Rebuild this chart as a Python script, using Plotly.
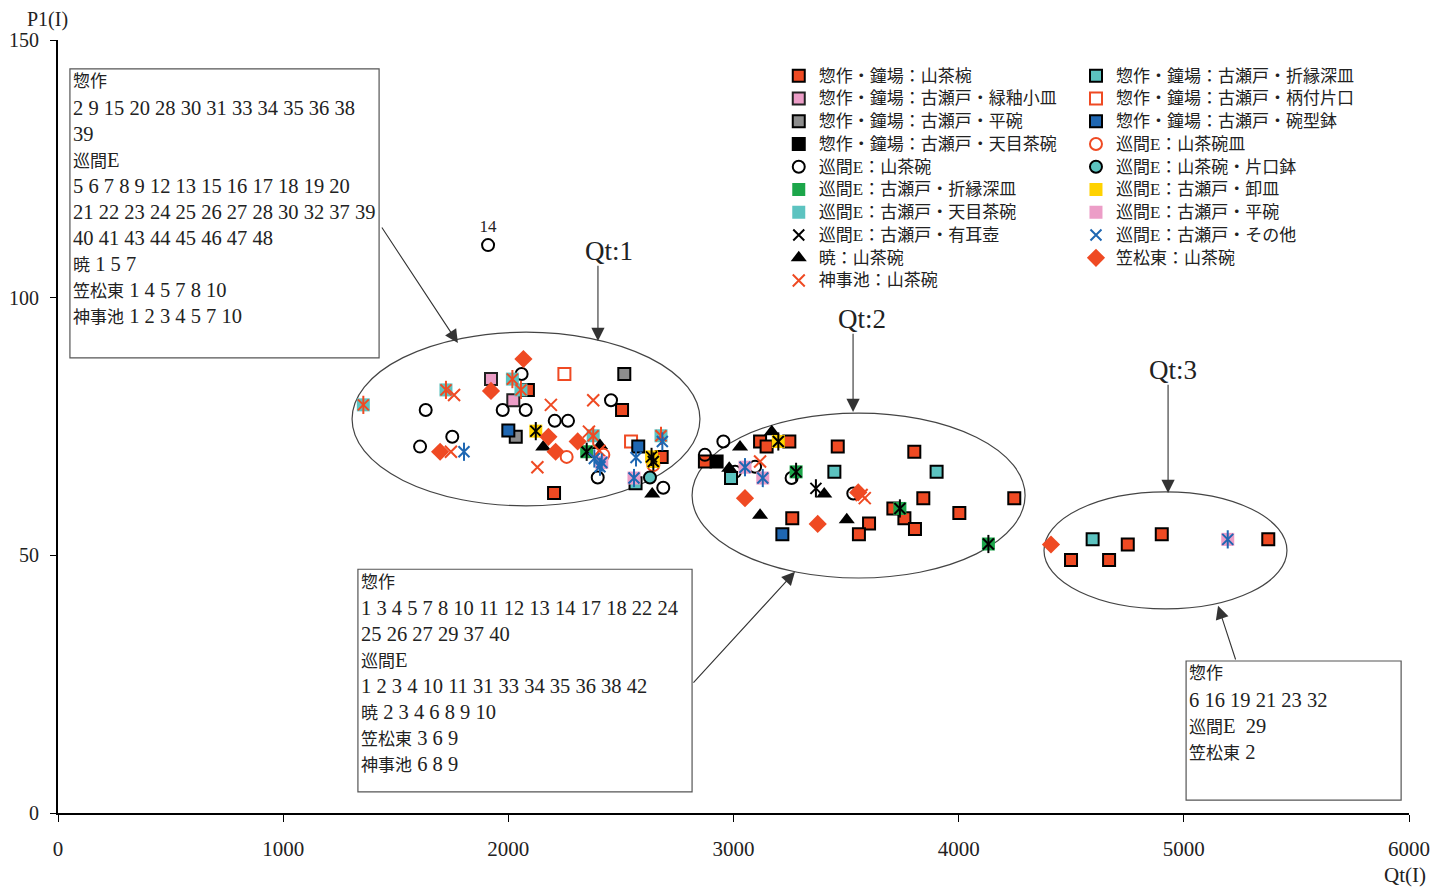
import re
import plotly.graph_objects as go

# ---------------- data (Qt(I), P1(I)) ----------------
s01_x = [2087, 2505, 2203, 2681, 2873, 3118, 3147, 3248, 3463, 3803, 3843, 4247, 4003, 3710, 3759, 3806, 3261, 3602, 3557, 4499, 4668, 4751, 4902, 5375]
s01_y = [82.1, 78.2, 62.1, 69.1, 68.2, 72.1, 71.1, 72.1, 71.1, 70.1, 61.1, 61.1, 58.2, 59.1, 57.2, 55.1, 57.2, 56.2, 54.1, 49.1, 49.1, 52.1, 54.1, 53.1]
s02_x = [1923, 2022]
s02_y = [84.2, 80.1]
s03_x = [2515, 2033]
s03_y = [85.2, 73.0]
s04_x = [2925]
s04_y = [68.2]
s05_x = [2059, 1633, 1975, 2077, 1751, 1608, 2206, 2265, 2456, 2397, 2688, 1910, 2955, 2873, 3007, 3096, 3258, 3532]
s05_y = [85.2, 78.2, 78.2, 78.2, 73.0, 71.1, 76.1, 76.1, 80.1, 65.1, 63.1, 110.2, 72.1, 69.5, 66.2, 67.2, 65.0, 62.0]
s05_text = ["", "", "", "", "", "", "", "", "", "", "", "14", "", "", "", "", "", ""]
s06_x = [2348, 3278, 3739, 4132]
s06_y = [70.1, 66.2, 59.1, 52.2]
s07_x = [1356, 1723, 2018, 2056, 2377, 2678]
s07_y = [79.2, 82.1, 84.2, 82.1, 73.2, 73.2]
s08_x = [3366]
s08_y = [63.0]
s09_x = [2155, 2407, 2639, 3170, 3029, 2981, 3118, 3403, 3503]
s09_y = [71.0, 71.3, 61.9, 74.0, 71.0, 66.9, 57.8, 61.9, 56.9]
s10_x = [1759, 1745, 2189, 2377, 2358, 2129, 2404, 3118, 3569, 3583]
s10_y = [81.1, 70.1, 79.2, 80.1, 74.0, 67.1, 70.3, 68.2, 61.7, 61.1]
s11_x = [2989, 3448, 3902, 4595, 2565]
s11_y = [65.0, 66.2, 66.2, 53.1, 64.0]
s12_x = [2249, 2545]
s12_y = [85.2, 72.1]
s13_x = [2000, 2577, 3217]
s13_y = [74.2, 71.1, 54.1]
s14_x = [2259, 2422, 2644]
s14_y = [69.1, 69.5, 67.5]
s15_x = [2629]
s15_y = [65.1]
s16_x = [2122, 2636, 2644, 3199]
s16_y = [74.1, 69.1, 68.2, 72.1]
s17_x = [2415, 2558, 3051, 3130, 5195]
s17_y = [68.0, 65.0, 67.1, 65.0, 53.1]
s18_x = [1803, 2684, 2567, 2382, 2407]
s18_y = [70.1, 72.1, 69.0, 68.8, 67.2]
s19_x = [2067, 1923, 1697, 2178, 2210, 2308, 3051, 3374, 3554, 4410]
s19_y = [88.1, 81.9, 70.1, 73.0, 70.1, 72.1, 61.1, 56.1, 62.2, 52.1]

names = [
    "惣作・鐘場：山茶椀", "惣作・鐘場：古瀬戸・緑釉小皿", "惣作・鐘場：古瀬戸・平碗",
    "惣作・鐘場：古瀬戸・天目茶碗", "巡間E：山茶碗", "巡間E：古瀬戸・折縁深皿",
    "巡間E：古瀬戸・天目茶碗", "巡間E：古瀬戸・有耳壺", "暁：山茶碗", "神事池：山茶碗",
    "惣作・鐘場：古瀬戸・折縁深皿", "惣作・鐘場：古瀬戸・柄付片口", "惣作・鐘場：古瀬戸・碗型鉢",
    "巡間E：山茶碗皿", "巡間E：山茶碗・片口鉢", "巡間E：古瀬戸・卸皿",
    "巡間E：古瀬戸・平碗", "巡間E：古瀬戸・その他", "笠松東：山茶碗",
]

box1_lines = ["惣作", "2 9 15 20 28 30 31 33 34 35 36 38", "39", "巡間E",
              "5 6 7 8 9 12 13 15 16 17 18 19 20", "21 22 23 24 25 26 27 28 30 32 37 39",
              "40 41 43 44 45 46 47 48", "暁 1 5 7", "笠松東 1 4 5 7 8 10", "神事池 1 2 3 4 5 7 10"]
box2_lines = ["惣作", "1 3 4 5 7 8 10 11 12 13 14 17 18 22 24", "25 26 27 29 37 40", "巡間E",
              "1 2 3 4 10 11 31 33 34 35 36 38 42", "暁 2 3 4 6 8 9 10", "笠松東 3 6 9", "神事池 6 8 9"]
box3_lines = ["惣作", "6 16 19 21 23 32", "巡間E  29", "笠松東 2"]

# ---------------- styling ----------------
ORG = "#EF4A23"; TEAL = "#5CC3C0"; PINK = "#EC9DC7"; GRAY = "#8D8D8D"
BLUE = "#1F67B2"; GREEN = "#1CA64A"; YEL = "#FFD200"; BLK = "#000000"
SERIF = "Liberation Serif, Noto Sans CJK JP, serif"
OFF = 8  # page body margin of the html page


def cjk_small(t, px=17):
    return re.sub(r"([^\x00-\x7f]+)", r'<span style="font-size:%dpx">\1</span>' % px, t)


def legend_name(t):
    return '<span style="font-size:17px">%s</span>' % t


fig = go.Figure()


def base(x, y, name, legend, symbol, fill, line_color, line_w, size=12, text=None):
    fig.add_trace(go.Scatter(
        x=x, y=y, name=legend_name(name), mode="markers+text" if text else "markers",
        text=text, textposition="top center", textfont=dict(size=17, family=SERIF, color="#222"),
        legend=legend,
        marker=dict(symbol=symbol, size=size, color=fill,
                    line=dict(color=line_color, width=line_w))))


def star(x, y, color, name, legend, show=False, size=12):
    fig.add_trace(go.Scatter(x=x, y=y, mode="markers", name=legend_name(name), legend=legend,
                             showlegend=show,
                             marker=dict(symbol="x-thin-open", size=size - 1, color=color,
                                         line=dict(color=color, width=2))))
    fig.add_trace(go.Scatter(x=x, y=y, mode="markers", name=legend_name(name), legend=legend,
                             showlegend=False,
                             marker=dict(symbol="line-ns-open", size=size + 1, color=color,
                                         line=dict(color=color, width=2))))


L1, L2 = "legend", "legend2"
base(s01_x, s01_y, names[0], L1, "square", ORG, BLK, 2)
base(s02_x, s02_y, names[1], L1, "square", PINK, "#222", 2)
base(s03_x, s03_y, names[2], L1, "square", GRAY, BLK, 2)
base(s04_x, s04_y, names[3], L1, "square", BLK, BLK, 2)
base(s05_x, s05_y, names[4], L1, "circle-open", BLK, BLK, 2, text=s05_text)
base(s06_x, s06_y, names[5], L1, "square", GREEN, GREEN, 0, size=13)
star(s06_x, s06_y, BLK, names[5], L1)
base(s07_x, s07_y, names[6], L1, "square", TEAL, TEAL, 0, size=13)
star(s07_x, s07_y, ORG, names[6], L1)
star(s08_x, s08_y, BLK, names[7], L1, show=True)
base(s09_x, s09_y, names[8], L1, "triangle-up", BLK, BLK, 0, size=14)
base(s10_x, s10_y, names[9], L1, "x-thin-open", ORG, ORG, 2, size=12)

base(s11_x, s11_y, names[10], L2, "square", TEAL, BLK, 2)
base(s12_x, s12_y, names[11], L2, "square-open", ORG, ORG, 2)
base(s13_x, s13_y, names[12], L2, "square", BLUE, BLK, 2)
base(s14_x, s14_y, names[13], L2, "circle-open", ORG, ORG, 2)
base(s15_x, s15_y, names[14], L2, "circle", TEAL, BLK, 2)
base(s16_x, s16_y, names[15], L2, "square", YEL, YEL, 0, size=13)
star(s16_x, s16_y, BLK, names[15], L2)
base(s17_x, s17_y, names[16], L2, "square", PINK, PINK, 0, size=13)
star(s17_x, s17_y, BLUE, names[16], L2)
star(s18_x, s18_y, BLUE, names[17], L2, show=True)
base(s19_x, s19_y, names[18], L2, "diamond", ORG, ORG, 0, size=14)

# ---------------- cluster ellipses ----------------
ellipses = [(1306, 59.6, 2851, 93.3), (2816, 45.6, 4295, 77.6), (4379, 39.6, 5458, 62.3)]
for x0, y0, x1, y1 in ellipses:
    fig.add_shape(type="circle", xref="x", yref="y", x0=x0, y0=y0, x1=x1, y1=y1,
                  line=dict(color="#444", width=1.2), layer="below")

# ---------------- text boxes ----------------
boxes = [((53, 88.3, 1426, 144.4), box1_lines),
         ((1332, 4.1, 2816, 47.3), box2_lines),
         ((5010, 2.5, 5965, 29.5), box3_lines)]
anns = []
for (x0, y0, x1, y1), lines in boxes:
    fig.add_shape(type="rect", xref="x", yref="y", x0=x0, y0=y0, x1=x1, y1=y1,
                  line=dict(color="#555", width=1.2), fillcolor="white", layer="below")
    for i, t in enumerate(lines):
        anns.append(dict(x=x0, y=y1, xref="x", yref="y", text=cjk_small(t), showarrow=False,
                         xanchor="left", yanchor="middle", xshift=1, yshift=-13 - 26 * i,
                         font=dict(size=20.5, family=SERIF, color="#222")))

# ---------------- arrows and Qt labels ----------------
arrows = [(2398, 106.5, 2398, 91.6), (3531, 93.3, 3531, 77.8), (4930, 83.4, 4930, 62.1),
          (1434, 113.9, 1776, 91.2), (2816, 25.0, 3273, 46.8), (5232, 29.5, 5152, 40.2)]
for ax_, ay_, x_, y_ in arrows:
    anns.append(dict(x=x_, y=y_, ax=ax_, ay=ay_, xref="x", yref="y", axref="x", ayref="y",
                     text="", showarrow=True, arrowhead=2, arrowsize=2.4, arrowwidth=1.1,
                     arrowcolor="#333"))
qt_labels = [("Qt:1", 2447, 109.1), ("Qt:2", 3571, 95.9), ("Qt:3", 4952, 86.0)]
for t, x_, y_ in qt_labels:
    anns.append(dict(x=x_, y=y_, xref="x", yref="y", text=t, showarrow=False,
                     font=dict(size=27, family=SERIF, color="#222")))

anns.append(dict(x=-0.0075, y=1.0, xref="paper", yref="paper", yshift=21,
                 text="P1(I)", showarrow=False, xanchor="center", yanchor="middle",
                 font=dict(size=20, family=SERIF, color="#222")))
anns.append(dict(x=1.0, y=0, xref="paper", yref="paper", yshift=-62, xshift=-4,
                 text="Qt(I)", showarrow=False, xanchor="center", yanchor="middle",
                 font=dict(size=21, family=SERIF, color="#222")))

fig.update_layout(
    width=1449 - OFF, height=890 - OFF,
    margin=dict(l=58 - OFF, r=40, t=40 - OFF, b=77, autoexpand=False),
    plot_bgcolor="white", paper_bgcolor="white",
    font=dict(family=SERIF, color="#222"),
    annotations=anns,
    legend=dict(x=0.5335, y=0.975, xanchor="left", yanchor="top", bgcolor="rgba(0,0,0,0)",
                font=dict(size=15.2, family=SERIF, color="#222"), itemclick=False,
                tracegroupgap=0),
    legend2=dict(x=0.7535, y=0.975, xanchor="left", yanchor="top", bgcolor="rgba(0,0,0,0)",
                 font=dict(size=15.2, family=SERIF, color="#222"), itemclick=False,
                 tracegroupgap=0),
    xaxis=dict(range=[0, 6000], tickvals=[0, 1000, 2000, 3000, 4000, 5000, 6000],
               showgrid=False, zeroline=False, showline=True, linecolor="black", linewidth=2,
               ticks="outside", ticklen=7, tickwidth=1.2, tickcolor="black", automargin=False,
               ticklabelstandoff=9, tickfont=dict(size=21, family=SERIF, color="#222")),
    yaxis=dict(range=[0, 150], tickvals=[0, 50, 100, 150],
               showgrid=False, zeroline=False, showline=True, linecolor="black", linewidth=2,
               ticks="outside", ticklen=6, tickwidth=1.2, tickcolor="black", automargin=False,
               ticklabelstandoff=7, tickfont=dict(size=20, family=SERIF, color="#222")),
)

fig.write_html("out.html")
